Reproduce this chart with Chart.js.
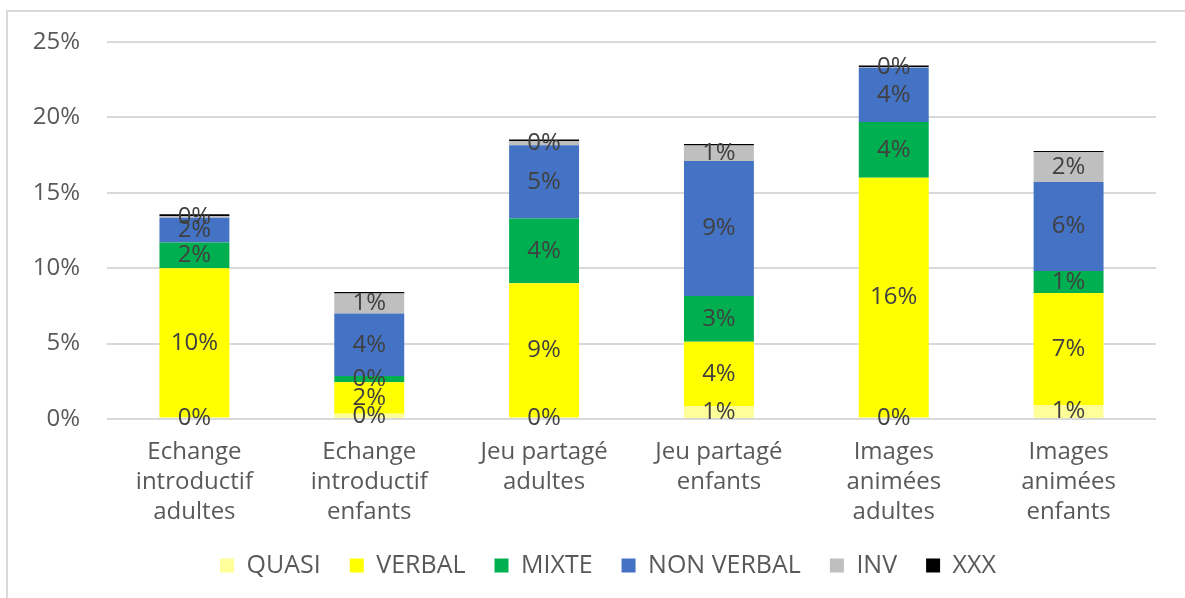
<!DOCTYPE html>
<html>
<head>
<meta charset="utf-8">
<script src="https://cdn.jsdelivr.net/npm/chart.js@4"></script>
<style>
  body { margin: 0; background: #fff; }
  #wrap { position: relative; width: 1185px; height: 598px; overflow: hidden; }
  #cadre { position: absolute; left: 6px; top: 10px; width: 1200px; height: 620px; border: 2px solid #d9d9d9; }
  canvas { position: absolute; left: 0; top: 0; }
</style>
</head>
<body>
<div id="wrap">
  <div id="cadre"></div>
  <canvas id="graphique" width="1185" height="598"></canvas>
</div>
<script>
// Catégories (axe X)
const categories = [
    ['Echange', 'introductif', 'adultes'],
    ['Echange', 'introductif', 'enfants'],
    ['Jeu partagé', 'adultes'],
    ['Jeu partagé', 'enfants'],
    ['Images', 'animées', 'adultes'],
    ['Images', 'animées', 'enfants']
];

// Valeurs en %
const quasi     = [0.1, 0.35, 0.1, 0.86, 0.1, 0.93];
const verbal    = [9.9, 2.08, 8.9, 4.26, 15.9, 7.43];
const mixte     = [1.7, 0.42, 4.3, 3.03, 3.69, 1.45];
const nonVerbal = [1.65, 4.15, 4.86, 8.96, 3.6, 5.91];
const inv       = [0.1, 1.32, 0.28, 1.02, 0.05, 1.99];
const xxx       = [0.12, 0.1, 0.1, 0.1, 0.1, 0.07];

const yTicks = [0, 5, 10, 15, 20, 25];

const police = "'Open Sans', sans-serif";
const gris = '#595959';

// Étiquettes de données au centre de chaque segment (sauf XXX)
const etiquettes = {
    id: 'etiquettes',
    afterDatasetsDraw(chart) {
        const ctx = chart.ctx;
        ctx.save();
        ctx.font = '24px ' + police;
        ctx.fillStyle = '#404040';
        ctx.textAlign = 'center';
        ctx.textBaseline = 'middle';
        chart.data.datasets.forEach((ds, i) => {
            if (!ds.showLabel) return;
            const meta = chart.getDatasetMeta(i);
            meta.data.forEach((bar, j) => {
                const v = ds.data[j];
                if (v === null || v === undefined) return;
                const p = bar.getProps(['x', 'y', 'base'], true);
                ctx.fillText(Math.round(v) + '%', p.x, (p.y + p.base) / 2);
            });
        });
        ctx.restore();
    }
};

// Légende un peu décalée vers la droite, comme l'original
const decalageLegende = {
    id: 'decalageLegende',
    afterLayout(chart) {
        if (!chart.legend) return;
        chart.legend.left += 30;
        chart.legend.right += 30;
    }
};

const ctx = document.getElementById('graphique').getContext('2d');

new Chart(ctx, {
    type: 'bar',
    data: {
        labels: categories,
        datasets: [
            { label: 'QUASI', data: quasi, backgroundColor: '#ffff99', showLabel: true },
            { label: 'VERBAL', data: verbal, backgroundColor: '#ffff00', showLabel: true },
            { label: 'MIXTE', data: mixte, backgroundColor: '#00b050', showLabel: true },
            { label: 'NON VERBAL', data: nonVerbal, backgroundColor: '#4472c4', showLabel: true },
            { label: 'INV', data: inv, backgroundColor: '#bfbfbf', showLabel: true },
            { label: 'XXX', data: xxx, backgroundColor: '#000000', showLabel: false }
        ]
    },
    options: {
        responsive: false,
        animation: false,
        datasets: {
            bar: { categoryPercentage: 1, barPercentage: 0.4, borderWidth: 0 }
        },
        layout: {
            padding: { left: 0, right: 29, top: 42, bottom: 10 }
        },
        plugins: {
            tooltip: { enabled: false },
            legend: {
                position: 'bottom',
                labels: {
                    boxWidth: 14,
                    boxHeight: 14,
                    padding: 29,
                    color: gris,
                    font: { family: police, size: 25 }
                }
            }
        },
        scales: {
            x: {
                stacked: true,
                grid: { display: false },
                border: { display: false },
                ticks: {
                    color: gris,
                    padding: 10,
                    maxRotation: 0,
                    font: { family: police, size: 24, lineHeight: 1.25 }
                },
                afterFit: function(scale) { scale.height = 105; }
            },
            y: {
                stacked: true,
                min: 0,
                max: 25,
                afterBuildTicks: function(scale) {
                    scale.ticks = yTicks.map(v => ({ value: v }));
                },
                grid: { color: '#d9d9d9', lineWidth: 2, drawTicks: false },
                border: { display: false },
                ticks: {
                    color: gris,
                    padding: 27,
                    font: { family: police, size: 24 },
                    callback: function(value) { return value + '%'; }
                },
                afterFit: function(scale) { scale.width = 107; }
            }
        }
    },
    plugins: [etiquettes, decalageLegende]
});
</script>
</body>
</html>
